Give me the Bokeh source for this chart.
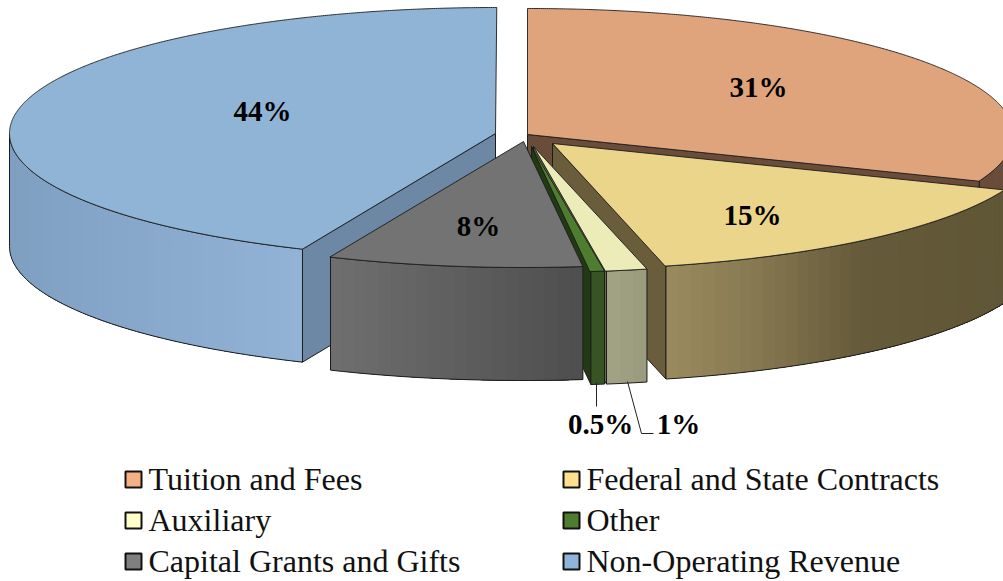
import numpy as np
from bokeh.plotting import figure
from bokeh.models import Range1d
from bokeh.core.properties import value
from bokeh.embed import file_html
from bokeh.resources import INLINE

# ---- data ----
names = ["Tuition and Fees", "Federal and State Contracts", "Auxiliary", "Other",
         "Capital Grants and Gifts", "Non-Operating Revenue"]
shares = [31.0, 15.25, 1.35, 0.45, 8.45, 43.5]
pct_labels = ["31%", "15%", "1%", "0.5%", "8%", "44%"]

# ---- layout / style ----
RX, RY, DEPTH = 486, 126, 113
apex_x = [527, 552, 533, 531, 523, 495]
apex_y = [134, 143, 146, 146, 141, 133]
top_col = ["#E0A47C", "#EBD58A", "#EBECB8", "#4F7D2F", "#737373", "#90B4D6"]
cut_col = ["#6A4C3A", "#6A5D3B", "#6E6A4A", "#213A14", "#4d4d4d", "#6C88A4"]
wall_stops = [
    [(0, "#6A4C3A"), (1100, "#6A4C3A")],
    [(665, "#9B8B5F"), (760, "#857750"), (860, "#655A3A"), (1010, "#5F5636")],
    [(607, "#A2A284"), (645, "#9A9A7C")],
    [(588, "#375523"), (602, "#375523")],
    [(332, "#6F6F6F"), (580, "#4E4E4E")],
    [(9, "#7F9FC1"), (60, "#83A3C6"), (302, "#92B2D6")],
]
draw_order = [0, 5, 1, 2, 3, 4]
label_x = [758, 752, 678, 600, 478, 262]
label_y = [86, 214, 423, 423, 225, 110]
swatch_col = ["#F4B183", "#FFE08F", "#FFFFC8", "#4F7D2F", "#7F7F7F", "#8FB4DC"]
swatch_x = [133, 571, 133, 571, 133, 571]
swatch_y = [479, 479, 520, 520, 561, 561]
INK = "#1c1c1c"

p = figure(width=1003, height=581, output_backend="svg", toolbar_location=None,
           x_range=Range1d(0, 1003), y_range=Range1d(581, 0), min_border=0,
           outline_line_color=None, background_fill_color="white")
p.axis.visible = False
p.grid.visible = False


def hex2rgb(c):
    return np.array([int(c[i:i + 2], 16) for i in (1, 3, 5)], float)


def shade(stops, x):
    xs = [s[0] for s in stops]
    rgb = np.array([hex2rgb(s[1]) for s in stops])
    v = [np.interp(x, xs, rgb[:, k]) for k in range(3)]
    return "#%02x%02x%02x" % tuple(int(round(a)) for a in v)


def rim(ax, ay, th):
    t = np.radians(th)
    return ax + RX * np.sin(t), ay - RY * np.cos(t)


cum = np.cumsum([0] + shares)
deg = cum / cum[-1] * 360

for i in draw_order:
    a0, a1 = deg[i], deg[i + 1]
    ax, ay = apex_x[i], apex_y[i]
    # radial cut wall
    cut = None
    if 180 <= a0 < 360:
        cut = a0
    elif 0 < a1 <= 180:
        cut = a1
    if cut is not None:
        ex, ey = rim(ax, ay, cut)
        p.patch([ax, ex, ex, ax], [ay, ey, ey + DEPTH, ay + DEPTH], fill_color=cut_col[i],
                line_color=INK, line_width=1)
    # outer wall: overlapping bands, so no seams show between them
    w0, w1 = max(a0, 90), min(a1, 270)
    if w1 > w0:
        th = np.linspace(w0, w1, max(2, int((w1 - w0) / 1.5) + 1))
        xs, ys = rim(ax, ay, th)
        order = np.argsort(xs)
        xs, ys = xs[order], ys[order]
        qx, qy, qc = [], [], []
        for k in range(len(th) - 1):
            # each band runs to the far end of the wall, later ones paint over it
            qx.append(list(xs[k:]) + list(xs[k:][::-1]))
            qy.append(list(ys[k:]) + list((ys[k:] + DEPTH)[::-1]))
            qc.append(shade(wall_stops[i], (xs[k] + xs[k + 1]) / 2))
        p.patches(qx, qy, fill_color=qc, line_color=None)
        p.patch(list(xs) + list(xs[::-1]), list(ys) + list(ys[::-1] + DEPTH),
                fill_color=None, line_color=INK, line_width=1)
    # top face
    th = np.arange(a0, a1 + 0.25, 0.25)
    xs, ys = rim(ax, ay, th)
    p.patch([ax] + list(xs) + [ax], [ay] + list(ys) + [ay], fill_color=top_col[i],
            line_color=INK, line_width=0.9)

# percentage labels
p.text(label_x, label_y, text=pct_labels, text_font=value("Liberation Serif"),
       text_font_style="bold", text_font_size="29px", text_align="center",
       text_baseline="middle", text_color="#000000")

# leader lines
p.line([596, 596], [382, 406], line_color="#222222", line_width=1)
p.line([627, 641, 653], [381, 433, 433], line_color="#222222", line_width=1)

# legend
p.rect(swatch_x, swatch_y, width=16, height=16, fill_color=swatch_col, line_color="#111111",
       line_width=2)
p.text([x + 15 for x in swatch_x], [y - 1 for y in swatch_y], text=names,
       text_font=value("Liberation Serif"), text_font_size="32px", text_align="left",
       text_baseline="middle", text_color="#111111")

open("out.html", "w").write(file_html(p, INLINE))
